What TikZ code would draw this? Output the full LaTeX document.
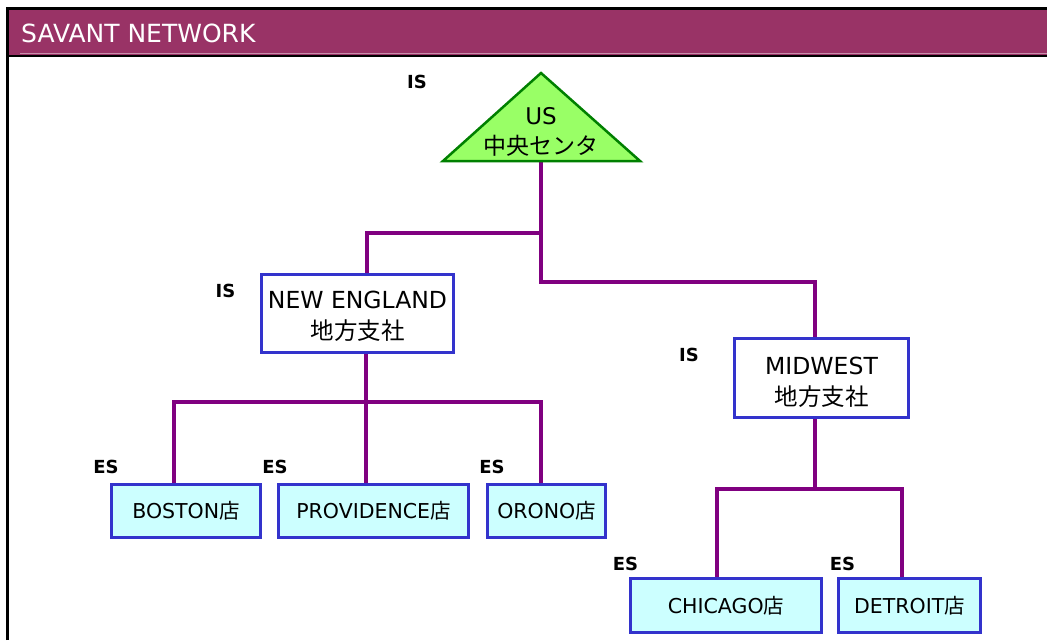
\documentclass[tikz,border=0pt]{standalone}
\usepackage{fontspec}
\setmainfont{DejaVu Sans}
\newfontfamily\cjk{Noto Sans CJK JP}
\usetikzlibrary{calc,backgrounds}
\definecolor{hdr}{HTML}{993366}
\definecolor{conncol}{HTML}{800080}
\definecolor{boxblue}{HTML}{3333CC}
\definecolor{storefill}{HTML}{CCFFFF}
\definecolor{trifill}{HTML}{99FF66}
\definecolor{tridraw}{HTML}{008000}
\begin{document}
\begin{tikzpicture}[x=1pt,y=-1pt,
  conn/.style={draw=conncol,line width=3.3pt},
  regionbox/.style={draw=boxblue,line width=2.8pt,fill=white,inner sep=0pt,align=center,font=\fontsize{23.5}{31}\selectfont},
  storebox/.style={draw=boxblue,line width=2.8pt,fill=storefill,inner sep=0pt,font=\fontsize{20.5}{24}\selectfont},
  tag/.style={font=\bfseries\fontsize{18}{21}\selectfont,inner sep=0pt}]
\useasboundingbox (0,0) rectangle (1047,640);
% header and frame
\fill[hdr] (7.5,9) rectangle (1047,55);
\draw[line width=1pt,color=hdr!55!white] (20,53.5) -- (1047,53.5);
\draw[line width=2.5pt] (7.5,640) -- (7.5,8.5) -- (1047,8.5);
\draw[line width=2.5pt] (7.5,56) -- (1047,56);
\node[anchor=base west,text=white,font=\fontsize{25}{30}\selectfont,inner sep=0pt] (title) at (21,42) {SAVANT NETWORK};
% central triangle
\filldraw[fill=trifill,draw=tridraw,line width=2.5pt] (541,73) -- (640,161) -- (443,161) -- cycle;
\node[anchor=north,align=center,font=\fontsize{23}{30}\selectfont,inner sep=0pt] (us) at (541,107.5) {US\\{\cjk 中央センタ}};
\coordinate (usb) at (541,161);
% regional offices
\node[regionbox,minimum width=192.5,minimum height=78.5] (ne) at (357.5,313.5) {\rule{0pt}{23pt}NEW ENGLAND\\{\cjk 地方支社}};
\node[regionbox,minimum width=174.5,minimum height=79.5] (mw) at (821.5,378) {\rule{0pt}{26pt}MIDWEST\\{\cjk 地方支社}};
% stores
\node[storebox,minimum width=149.5,minimum height=53.5] (boston) at (186,511) {BOSTON{\cjk 店}};
\node[storebox,minimum width=190.5,minimum height=53.5] (prov) at (373.5,511) {PROVIDENCE{\cjk 店}};
\node[storebox,minimum width=118.5,minimum height=53.5] (orono) at (546.5,511) {ORONO{\cjk 店}};
\node[storebox,minimum width=191.5,minimum height=54.5] (chicago) at (726,605.5) {CHICAGO{\cjk 店}};
\node[storebox,minimum width=142.5,minimum height=54.5] (detroit) at (909.5,605.5) {DETROIT{\cjk 店}};
% tags
\node[tag] (is1) at (417,82) {IS};
\node[tag] (is2) at (225.5,290.5) {IS};
\node[tag] (is3) at (689,355) {IS};
\node[tag] (es1) at (106,467) {ES};
\node[tag] (es2) at (275,467) {ES};
\node[tag] (es3) at (492,467) {ES};
\node[tag] (es4) at (625.5,563.5) {ES};
\node[tag] (es5) at (842.5,563.5) {ES};
% connectors
\coordinate (nebus) at (366,402);
\coordinate (mwbus) at (815,489);
\begin{scope}[on background layer]
\fill[white] (0,0) rectangle (1047,640);
\draw[conn] (usb) -- ++(0,72) -| ([xshift=9.5pt]ne.north);
\draw[conn] (usb) -- ++(0,121) -| ([xshift=-6.5pt]mw.north);
\draw[conn] (nebus |- ne.south) -- (nebus);
\draw[conn] (nebus) -| ([xshift=-12pt]boston.north);
\draw[conn] (nebus) -| ([xshift=-7.5pt]prov.north);
\draw[conn] (nebus) -| ([xshift=-5.5pt]orono.north);
\draw[conn] (mwbus |- mw.south) -- (mwbus);
\draw[conn] (mwbus) -| ([xshift=-9pt]chicago.north);
\draw[conn] (mwbus) -| ([xshift=-7.5pt]detroit.north);
\end{scope}
\end{tikzpicture}
\end{document}
